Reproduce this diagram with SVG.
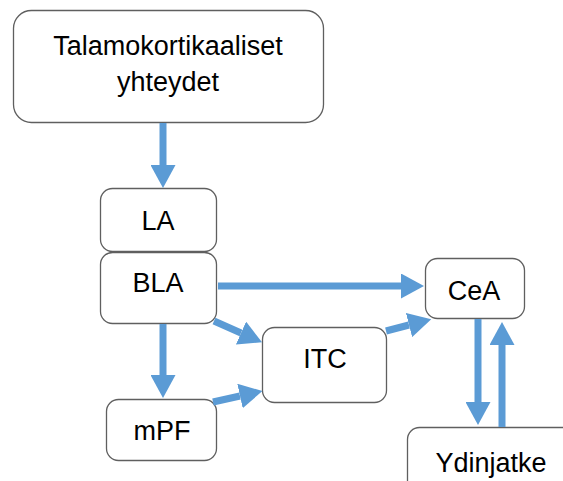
<svg xmlns="http://www.w3.org/2000/svg" width="563" height="481" viewBox="0 0 563 481">
<defs>
<style>
.box{fill:#fff;stroke:#5f5f5f;stroke-width:1.3}
.lbl{font-family:"Liberation Sans",Arial,sans-serif;font-size:27px;fill:#000;text-anchor:middle}
.ar{stroke:#5b9bd5;stroke-width:7;fill:none}
</style>
<marker id="h" markerUnits="userSpaceOnUse" markerWidth="24" markerHeight="25" refX="0" refY="12.5" orient="auto" viewBox="0 0 24 25">
<path d="M0,0 L23,12.5 L0,25 z" fill="#5b9bd5"/>
</marker>
</defs>
<rect width="563" height="481" fill="#fff"/>
<g id="n-talamo"><rect class="box" x="13.5" y="10.5" width="310" height="112" rx="18"/><text class="lbl" x="168" y="55">Talamokortikaaliset</text><text class="lbl" x="168" y="91">yhteydet</text></g>
<g id="n-la"><rect class="box" x="100.5" y="188.5" width="116" height="63" rx="12"/><text class="lbl" x="158" y="230">LA</text></g>
<g id="n-bla"><rect class="box" x="100.5" y="252.5" width="116" height="71" rx="12"/><text class="lbl" x="158" y="292">BLA</text></g>
<g id="n-itc"><rect class="box" x="262.5" y="327.5" width="124" height="75" rx="12"/><text class="lbl" x="325" y="368">ITC</text></g>
<g id="n-mpf"><rect class="box" x="106.5" y="399.5" width="110" height="61" rx="12"/><text class="lbl" x="162" y="440">mPF</text></g>
<g id="n-cea"><rect class="box" x="425.5" y="258.5" width="99" height="60" rx="12"/><text class="lbl" x="474" y="300">CeA</text></g>
<g id="n-ydin"><rect class="box" x="407.5" y="427.5" width="200" height="100" rx="12"/><text class="lbl" x="491" y="472">Ydinjatke</text></g>
<g id="connectors">
<line class="ar" x1="163" y1="123" x2="163" y2="165" marker-end="url(#h)"/>
<line class="ar" x1="218" y1="286" x2="401" y2="286" marker-end="url(#h)"/>
<line class="ar" x1="163" y1="324" x2="163" y2="375" marker-end="url(#h)"/>
<line class="ar" x1="214" y1="321" x2="241" y2="333" marker-end="url(#h)"/>
<line class="ar" x1="213" y1="402" x2="240" y2="396" marker-end="url(#h)"/>
<line class="ar" x1="386" y1="331" x2="409" y2="325" marker-end="url(#h)"/>
<line class="ar" x1="478" y1="319" x2="478" y2="402" marker-end="url(#h)"/>
<line class="ar" x1="502" y1="427" x2="502" y2="345" marker-end="url(#h)"/>
</g>
</svg>
